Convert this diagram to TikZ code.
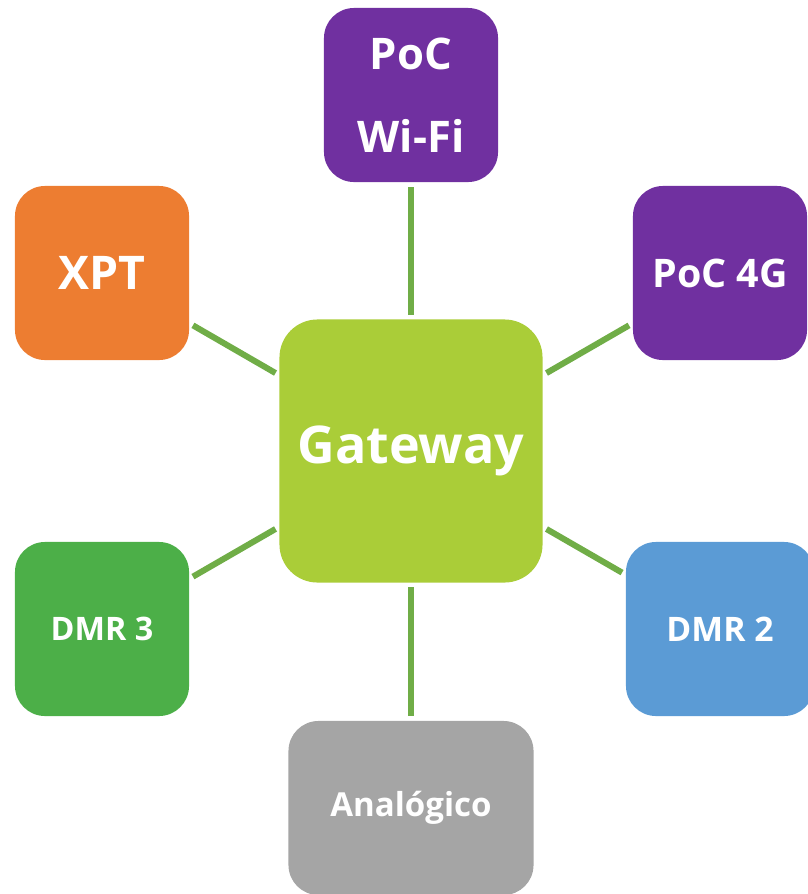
\documentclass[tikz,border=0pt]{standalone}
\usepackage{fontspec}
\setmainfont{Open Sans}
\usepackage{xcolor}
\definecolor{gwgreen}{HTML}{AACD38}
\definecolor{pocpurple}{HTML}{7030A0}
\definecolor{xptorange}{HTML}{ED7D31}
\definecolor{dmrgreen}{HTML}{4CAF48}
\definecolor{dmrblue}{HTML}{5B9BD5}
\definecolor{anagray}{HTML}{A5A5A5}
\definecolor{linkgreen}{HTML}{70AD47}

\begin{document}
\begin{tikzpicture}[x=0.025cm, y=-0.025cm,
    box/.style={fill=#1, rounded corners=0.75cm, minimum width=4.35cm,
      minimum height=4.35cm, inner sep=0pt, text=white, align=center},
    fs/.style 2 args={font=\bfseries\fontsize{#1}{#2}\selectfont},
    link/.style={draw=linkgreen, line width=4.3pt, shorten <=3pt, shorten >=3pt}]
      \clip (0,0) rectangle (808,894);
      \node[box=gwgreen, minimum size=6.575cm, rounded corners=0.95cm, fs={37}{44}] (gw) at (411,451) {Gateway};
      \node[box=pocpurple, fs={31}{59}] (wifi) at (411,95) {PoC\\Wi-Fi};
      \node[box=xptorange, fs={33}{40}] (xpt) at (102,273) {XPT};
      \node[box=pocpurple, fs={28}{34}] (g4) at (720,273) {PoC 4G};
      \node[box=dmrgreen, fs={23}{28}] (dmr3) at (102,629) {DMR 3};
      \node[box=dmrblue, minimum width=4.7cm, fs={24}{28}] (dmr2) at (720,629) {DMR 2};
      \node[box=anagray, minimum width=6.125cm, fs={23.5}{28}] (ana) at (411,808) {Analógico};
      \foreach \n in {wifi,xpt,g4,dmr3,dmr2,ana} {
        \draw[link] (gw) -- (\n);
      }
    \end{tikzpicture}
\end{document}
